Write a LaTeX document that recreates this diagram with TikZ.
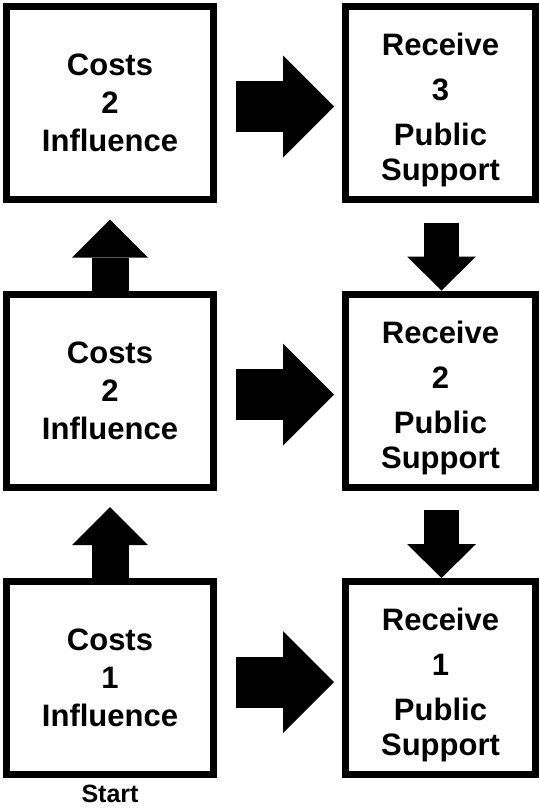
\documentclass[tikz,border=0pt]{standalone}
\usepackage{fontspec}
\setmainfont{Liberation Sans}
\usetikzlibrary{arrows.meta,positioning}

\begin{document}
\begin{tikzpicture}[x=1pt, y=-1pt,
    costbox/.style={draw, line width=7pt, minimum width=207pt, minimum height=193pt,
                    align=center, font=\bfseries\fontsize{31}{38}\selectfont},
    gainbox/.style={costbox, minimum width=190pt, text height=161.5pt, text depth=6.5pt,
                    font=\bfseries\fontsize{31}{35}\selectfont},
    flow/.style={line width=51pt, -{Triangle[length=51pt, width=102pt, line width=0pt]}},
    climb/.style={line width=37pt, -{Triangle[length=38pt, width=76pt, line width=0pt]}},
    drop/.style={line width=35pt, -{Triangle[length=34pt, width=69pt, line width=0pt]}}
]
\useasboundingbox (0,0) rectangle (539,809);

% Influence spent (left column)
\node[costbox] (C1) at (110,102.5) {Costs\\2\\Influence};
\node[costbox] (C2) at (110,390.5) {Costs\\2\\Influence};
\node[costbox] (C3) at (110,678) {Costs\\1\\Influence};
\node[font=\bfseries\fontsize{25}{28}\selectfont, inner sep=0pt, below=7pt of C3] (start) {Start};

% Public support gained (right column)
\node[gainbox] (R1) at (440.5,102.5) {Receive\\[10pt]3\\[10pt]Public\\Support};
\node[gainbox] (R2) at (440.5,390.5) {Receive\\[10pt]2\\[10pt]Public\\Support};
\node[gainbox] (R3) at (440.5,678) {Receive\\[10pt]1\\[10pt]Public\\Support};

% Pay -> receive
\draw[flow] ([xshift=19pt,yshift=-4pt]C1.east) -- ([xshift=-8pt,yshift=-4pt]R1.west);
\draw[flow] ([xshift=19pt,yshift=-4pt]C2.east) -- ([xshift=-8pt,yshift=-4pt]R2.west);
\draw[flow] ([xshift=19pt,yshift=-4pt]C3.east) -- ([xshift=-8pt,yshift=-4pt]R3.west);

% Next step up
\draw[climb] (C3.north) -- ([yshift=-16.5pt]C2.south);
\draw[climb] (C2.north) -- ([yshift=-17pt]C1.south);

% Support goes down
\draw[drop] ([xshift=1pt,yshift=-20pt]R1.south) -- ([xshift=1pt]R2.north);
\draw[drop] ([xshift=1pt,yshift=-19pt]R2.south) -- ([xshift=1pt]R3.north);

\end{tikzpicture}
\end{document}
